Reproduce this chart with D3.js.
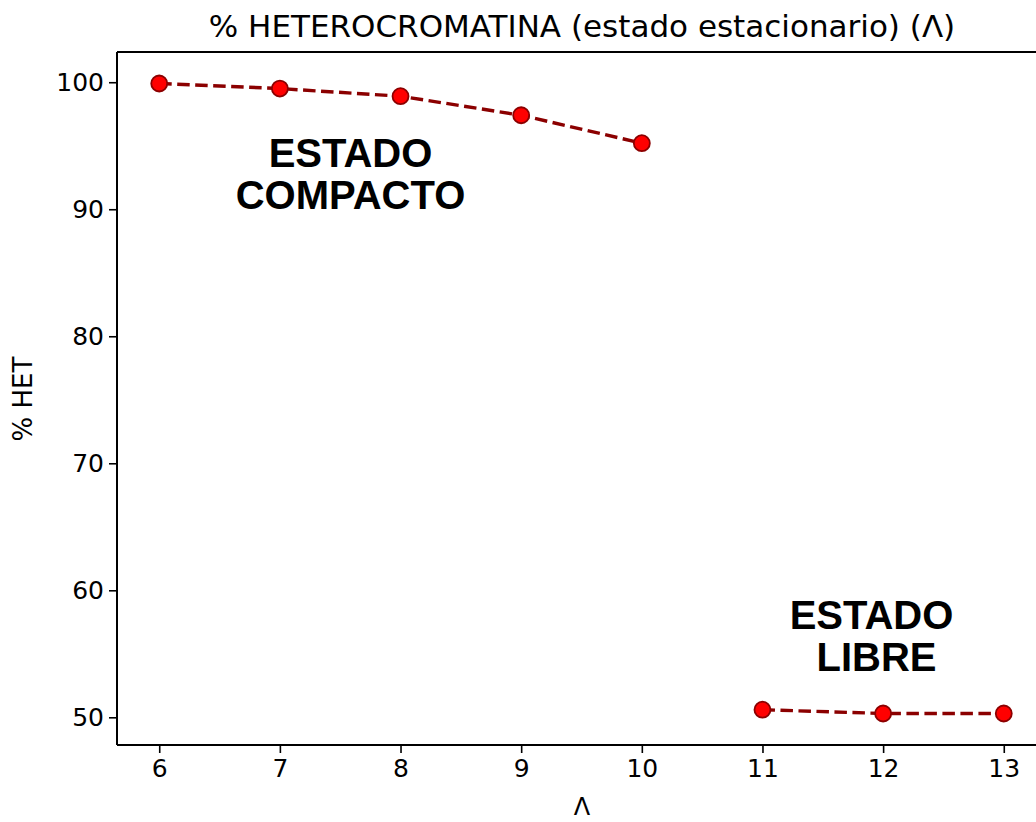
<!DOCTYPE html>
<html><head><meta charset="utf-8">
<script src="https://cdn.jsdelivr.net/npm/d3@7"></script>
<style>body{margin:0;background:#fff}svg{display:block}</style>
</head><body>
<svg id="c" width="1036" height="822"></svg>
<script>
const xCompact = [6, 7, 8, 9, 10];
const yCompact = [99.9, 99.5, 98.9, 97.4, 95.2];
const xLibre = [11, 12, 13];
const yLibre = [50.6, 50.3, 50.3];
const xTicks = [6, 7, 8, 9, 10, 11, 12, 13];
const yTicks = [50, 60, 70, 80, 90, 100];
const title = "% HETEROCROMATINA (estado estacionario) (Λ)";
const xLabel = "Λ";
const yLabel = "% HET";

const svg = d3.select("#c");
const L = 117, R = 1046, T = 52, B = 745;
const x = d3.scaleLinear().domain([5.65, 13.35]).range([L, R]);
const y = d3.scaleLinear().domain([47.82, 102.38]).range([B, T]);
const font = "DejaVu Sans, sans-serif";

const xa = svg.append("g").attr("transform", `translate(0,${B})`)
  .call(d3.axisBottom(x).tickValues(xTicks).tickSize(8).tickPadding(6).tickFormat(d3.format("d")));
const ya = svg.append("g").attr("transform", `translate(${L},0)`)
  .call(d3.axisLeft(y).tickValues(yTicks).tickSize(8).tickPadding(5).tickFormat(d3.format("d")));
[xa, ya].forEach(a => {
  a.attr("font-size", null).attr("font-family", null);
  a.selectAll("text").style("font-family", font).style("font-size", "25px").attr("fill", "#000");
  a.selectAll("line").attr("stroke", "#000").attr("stroke-width", 1.6);
  a.select(".domain").remove();
});
svg.append("line").attr("x1", L).attr("x2", R).attr("y1", B).attr("y2", B).attr("stroke", "#000").attr("stroke-width", 2);
svg.append("line").attr("x1", L).attr("x2", L).attr("y1", T).attr("y2", B).attr("stroke", "#000").attr("stroke-width", 2);
svg.append("line").attr("x1", L).attr("x2", R).attr("y1", T).attr("y2", T).attr("stroke", "#000").attr("stroke-width", 2);

const line = d3.line().x(d => x(d[0])).y(d => y(d[1]));
[[xCompact, yCompact], [xLibre, yLibre]].forEach(([xs, ys]) => {
  const pts = xs.map((v, i) => [v, ys[i]]);
  svg.append("path").datum(pts).attr("d", line).attr("fill", "none")
    .attr("stroke", "#8b0000").attr("stroke-width", 3.4).attr("stroke-dasharray", "12.5,5.5");
  svg.selectAll(null).data(pts).enter().append("circle")
    .attr("cx", d => x(d[0])).attr("cy", d => y(d[1])).attr("r", 8)
    .attr("fill", "#ff0000").attr("stroke", "#8b0000").attr("stroke-width", 1.8);
});

svg.append("text").attr("x", 582).attr("y", 37).attr("text-anchor", "middle")
  .style("font-family", font).style("font-size", "31px").text(title);
svg.append("text").attr("x", 582).attr("y", 815).attr("text-anchor", "middle")
  .style("font-family", font).style("font-size", "24px").text(xLabel);
svg.append("text").attr("transform", "translate(32,399) rotate(-90)").attr("text-anchor", "middle")
  .style("font-family", font).style("font-size", "26px").text(yLabel);

const bold = "Liberation Sans, Arial, sans-serif";
function ann(cx, cy, t) {
  svg.append("text").attr("x", cx).attr("y", cy)
    .attr("text-anchor", "middle")
    .style("font-family", bold).style("font-weight", "bold").style("font-size", "40px").text(t);
}
ann(350.5, 167, "ESTADO");
ann(350.5, 209, "COMPACTO");
ann(871.5, 629, "ESTADO");
ann(876.5, 671, "LIBRE");
</script>
</body></html>
